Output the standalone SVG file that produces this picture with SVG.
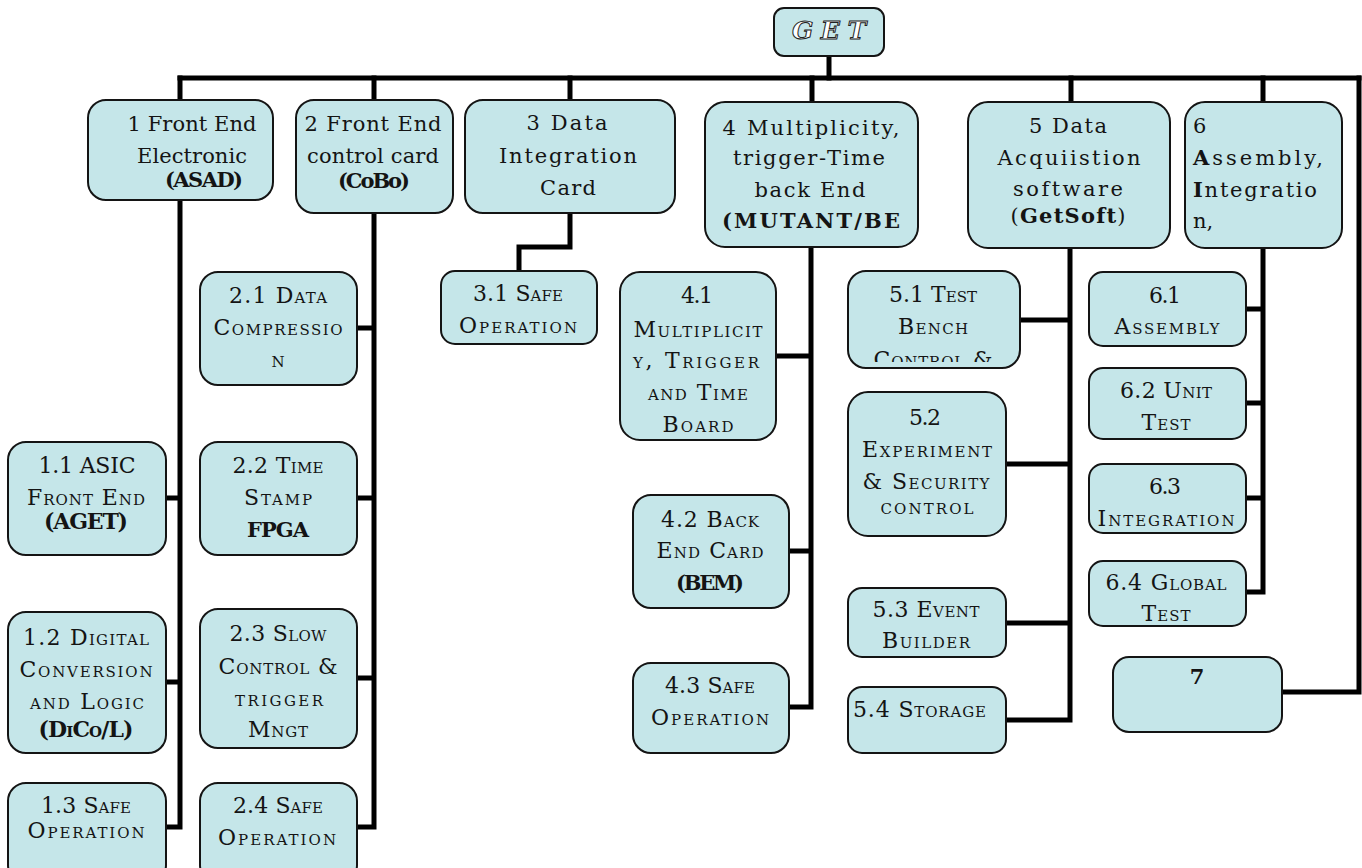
<svg xmlns="http://www.w3.org/2000/svg" width="1362" height="868" viewBox="0 0 1362 868">
<style>
.box{fill:#c5e6e9;stroke:#141414;stroke-width:2}
.t{font-family:"DejaVu Serif",serif;font-size:21px;fill:#141414;text-anchor:middle}
.l{text-anchor:start}
.sc{font-variant:small-caps;font-size:22px}
.b{font-weight:bold}
.get{font-family:"DejaVu Serif",serif;font-size:25px;font-style:italic;font-weight:bold;fill:#ffffff;stroke:#222;stroke-width:1;text-anchor:middle}
.c{fill:none;stroke:#000;stroke-width:5;stroke-linejoin:miter;stroke-linecap:square}
</style>
<defs>
<clipPath id="clip51"><rect x="848" y="271" width="172" height="91"/></clipPath>
</defs>
<g id="connectors">
<path class="c" d="M829 56 V78"/>
<path class="c" d="M180 78 H1359"/>
<path class="c" d="M1359 78 V692 H1284"/>
<path class="c" d="M180 78 V100 M374 78 V100 M570 78 V100 M812 78 V102 M1071 78 V102 M1263 78 V102"/>
<path class="c" d="M180 200 V827 H167 M167 498 H180 M167 682 H180"/>
<path class="c" d="M374 213 V827 H358 M358 328 H374 M358 498 H374 M358 678 H374"/>
<path class="c" d="M570 213 V247 H519 V271"/>
<path class="c" d="M811 247 V707 H790 M777 356 H811 M790 551 H811"/>
<path class="c" d="M1070 248 V720 H1007 M1021 320 H1070 M1007 464 H1070 M1007 623 H1070"/>
<path class="c" d="M1263 248 V592 H1247 M1247 309 H1263 M1247 403 H1263 M1247 498 H1263"/>
</g>
<g id="n0">
<rect class="box" x="774" y="8" width="110" height="48" rx="10"/>
<text class="get" x="829" y="39" textLength="74" lengthAdjust="spacing">GET</text>
</g>
<g id="n1">
<rect class="box" x="88" y="100" width="185" height="100" rx="18"/>
<text class="t" x="192" y="131" textLength="129" lengthAdjust="spacing">1 Front End</text>
<text class="t" x="192" y="163" textLength="110" lengthAdjust="spacing">Electronic</text>
<text class="t b" x="204" y="187" textLength="78" lengthAdjust="spacing">(ASAD)</text>
</g>
<g id="n2">
<rect class="box" x="296" y="100" width="157" height="113" rx="18"/>
<text class="t" x="373" y="131" textLength="137" lengthAdjust="spacing">2  Front End</text>
<text class="t" x="373" y="163" textLength="132" lengthAdjust="spacing">control card</text>
<text class="t b" x="374" y="188" textLength="72" lengthAdjust="spacing">(CoBo)</text>
</g>
<g id="n3">
<rect class="box" x="465" y="100" width="210" height="113" rx="18"/>
<text class="t" x="567" y="130" textLength="81" lengthAdjust="spacing">3 Data</text>
<text class="t" x="568" y="163" textLength="138" lengthAdjust="spacing">Integration</text>
<text class="t" x="568" y="195" textLength="56" lengthAdjust="spacing">Card</text>
</g>
<g id="n4">
<rect class="box" x="705" y="102" width="213" height="145" rx="20"/>
<text class="t" x="811" y="135" textLength="177" lengthAdjust="spacing">4 Multiplicity,</text>
<text class="t" x="809" y="165" textLength="152" lengthAdjust="spacing">trigger-Time</text>
<text class="t" x="810" y="197" textLength="111" lengthAdjust="spacing">back End</text>
<text class="t b" x="811" y="228" textLength="178" lengthAdjust="spacing">(MUTANT/BE</text>
</g>
<g id="n5">
<rect class="box" x="968" y="102" width="202" height="146" rx="20"/>
<text class="t" x="1068" y="133" textLength="78" lengthAdjust="spacing">5 Data</text>
<text class="t" x="1069" y="165" textLength="143" lengthAdjust="spacing">Acquiistion</text>
<text class="t" x="1068" y="196" textLength="110" lengthAdjust="spacing">software</text>
<text class="t" x="1068" y="223" textLength="115" lengthAdjust="spacing">(<tspan class="b">GetSoft</tspan>)</text>
</g>
<g id="n6">
<rect class="box" x="1185" y="102" width="157" height="146" rx="20"/>
<text class="t l" x="1193" y="133">6</text>
<text class="t l" x="1193" y="165" textLength="130" lengthAdjust="spacing"><tspan class="b">A</tspan>ssembly,</text>
<text class="t l" x="1193" y="197" textLength="124" lengthAdjust="spacing"><tspan class="b">I</tspan>ntegratio</text>
<text class="t l" x="1193" y="228">n,</text>
</g>
<g id="n1_1">
<rect class="box" x="8" y="442" width="158" height="113" rx="18"/>
<text class="t sc" x="87" y="473" textLength="97" lengthAdjust="spacing">1.1 ASIC</text>
<text class="t sc" x="86" y="505" textLength="118" lengthAdjust="spacing">Front End</text>
<text class="t sc b" x="86" y="529" textLength="84" lengthAdjust="spacing">(AGET)</text>
</g>
<g id="n1_2">
<rect class="box" x="8" y="612" width="158" height="141" rx="18"/>
<text class="t sc" x="86" y="645" textLength="126" lengthAdjust="spacing">1.2 Digital</text>
<text class="t sc" x="86" y="677" textLength="133" lengthAdjust="spacing">Conversion</text>
<text class="t sc" x="87" y="709" textLength="114" lengthAdjust="spacing">and Logic</text>
<text class="t sc b" x="86" y="737" textLength="95" lengthAdjust="spacing">(DiCo/L)</text>
</g>
<g id="n1_3">
<rect class="box" x="8" y="783" width="158" height="100" rx="18"/>
<text class="t sc" x="86" y="813" textLength="90" lengthAdjust="spacing">1.3 Safe</text>
<text class="t sc" x="86" y="838" textLength="117" lengthAdjust="spacing">Operation</text>
</g>
<g id="n2_1">
<rect class="box" x="200" y="272" width="157" height="113" rx="18"/>
<text class="t sc" x="278" y="303" textLength="98" lengthAdjust="spacing">2.1 Data</text>
<text class="t sc" x="278" y="335" textLength="129" lengthAdjust="spacing">Compressio</text>
<text class="t sc" x="278" y="367">n</text>
</g>
<g id="n2_2">
<rect class="box" x="200" y="442" width="157" height="113" rx="18"/>
<text class="t sc" x="278" y="473" textLength="91" lengthAdjust="spacing">2.2 Time</text>
<text class="t sc" x="278" y="505" textLength="68" lengthAdjust="spacing">Stamp</text>
<text class="t b" x="278" y="537" textLength="62" lengthAdjust="spacing">FPGA</text>
</g>
<g id="n2_3">
<rect class="box" x="200" y="609" width="157" height="139" rx="18"/>
<text class="t sc" x="278" y="641" textLength="97" lengthAdjust="spacing">2.3 Slow</text>
<text class="t sc" x="278" y="674" textLength="119" lengthAdjust="spacing">Control &amp;</text>
<text class="t sc" x="279" y="706" textLength="88" lengthAdjust="spacing">trigger</text>
<text class="t sc" x="278" y="737" textLength="60" lengthAdjust="spacing">Mngt</text>
</g>
<g id="n2_4">
<rect class="box" x="200" y="783" width="157" height="100" rx="18"/>
<text class="t sc" x="278" y="813" textLength="90" lengthAdjust="spacing">2.4 Safe</text>
<text class="t sc" x="277" y="845" textLength="118" lengthAdjust="spacing">Operation</text>
</g>
<g id="n3_1">
<rect class="box" x="441" y="271" width="156" height="73" rx="14"/>
<text class="t sc" x="518" y="301" textLength="90" lengthAdjust="spacing">3.1 Safe</text>
<text class="t sc" x="518" y="333" textLength="118" lengthAdjust="spacing">Operation</text>
</g>
<g id="n4_1">
<rect class="box" x="620" y="272" width="156" height="168" rx="20"/>
<text class="t sc" x="697" y="303" textLength="32" lengthAdjust="spacing">4.1</text>
<text class="t sc" x="698" y="337" textLength="129" lengthAdjust="spacing">Multiplicit</text>
<text class="t sc" x="696" y="368" textLength="126" lengthAdjust="spacing">y, Trigger</text>
<text class="t sc" x="698" y="400" textLength="100" lengthAdjust="spacing">and Time</text>
<text class="t sc" x="698" y="432" textLength="71" lengthAdjust="spacing">Board</text>
</g>
<g id="n4_2">
<rect class="box" x="633" y="495" width="156" height="113" rx="18"/>
<text class="t sc" x="710" y="527" textLength="98" lengthAdjust="spacing">4.2 Back</text>
<text class="t sc" x="710" y="558" textLength="107" lengthAdjust="spacing">End Card</text>
<text class="t b" x="710" y="590" textLength="68" lengthAdjust="spacing">(BEM)</text>
</g>
<g id="n4_3">
<rect class="box" x="633" y="663" width="156" height="90" rx="18"/>
<text class="t sc" x="710" y="693" textLength="90" lengthAdjust="spacing">4.3 Safe</text>
<text class="t sc" x="710" y="725" textLength="118" lengthAdjust="spacing">Operation</text>
</g>
<g id="n5_1">
<rect class="box" x="848" y="271" width="172" height="97" rx="18"/>
<g clip-path="url(#clip51)">
<text class="t sc" x="933" y="302" textLength="88" lengthAdjust="spacing">5.1 Test</text>
<text class="t sc" x="933" y="334" textLength="70" lengthAdjust="spacing">Bench</text>
<text class="t sc" x="933" y="367" textLength="119" lengthAdjust="spacing">Control &amp;</text>
</g>
</g>
<g id="n5_2">
<rect class="box" x="848" y="392" width="158" height="144" rx="20"/>
<text class="t sc" x="925" y="425" textLength="32" lengthAdjust="spacing">5.2</text>
<text class="t sc" x="927" y="457" textLength="130" lengthAdjust="spacing">Experiment</text>
<text class="t sc" x="926" y="489" textLength="127" lengthAdjust="spacing">&amp; Security</text>
<text class="t sc" x="927" y="514" textLength="93" lengthAdjust="spacing">control</text>
</g>
<g id="n5_3">
<rect class="box" x="848" y="588" width="158" height="69" rx="14"/>
<text class="t sc" x="926" y="617" textLength="107" lengthAdjust="spacing">5.3 Event</text>
<text class="t sc" x="926" y="648" textLength="88" lengthAdjust="spacing">Builder</text>
</g>
<g id="n5_4">
<rect class="box" x="848" y="687" width="158" height="66" rx="14"/>
<text class="t sc l" x="853" y="717" textLength="133" lengthAdjust="spacing">5.4 Storage</text>
</g>
<g id="n6_1">
<rect class="box" x="1089" y="272" width="157" height="74" rx="14"/>
<text class="t sc" x="1165" y="303" textLength="32" lengthAdjust="spacing">6.1</text>
<text class="t sc" x="1167" y="334" textLength="105" lengthAdjust="spacing">Assembly</text>
</g>
<g id="n6_2">
<rect class="box" x="1089" y="368" width="157" height="71" rx="14"/>
<text class="t sc" x="1166" y="398" textLength="92" lengthAdjust="spacing">6.2 Unit</text>
<text class="t sc" x="1166" y="430" textLength="49" lengthAdjust="spacing">Test</text>
</g>
<g id="n6_3">
<rect class="box" x="1089" y="464" width="157" height="69" rx="14"/>
<text class="t sc" x="1165" y="494" textLength="32" lengthAdjust="spacing">6.3</text>
<text class="t sc" x="1166" y="526" textLength="137" lengthAdjust="spacing">Integration</text>
</g>
<g id="n6_4">
<rect class="box" x="1089" y="561" width="157" height="65" rx="14"/>
<text class="t sc" x="1166" y="590" textLength="121" lengthAdjust="spacing">6.4 Global</text>
<text class="t sc" x="1166" y="621" textLength="49" lengthAdjust="spacing">Test</text>
</g>
<g id="n7">
<rect class="box" x="1113" y="657" width="169" height="75" rx="16"/>
<text class="t b" x="1197" y="684">7</text>
</g>
</svg>
